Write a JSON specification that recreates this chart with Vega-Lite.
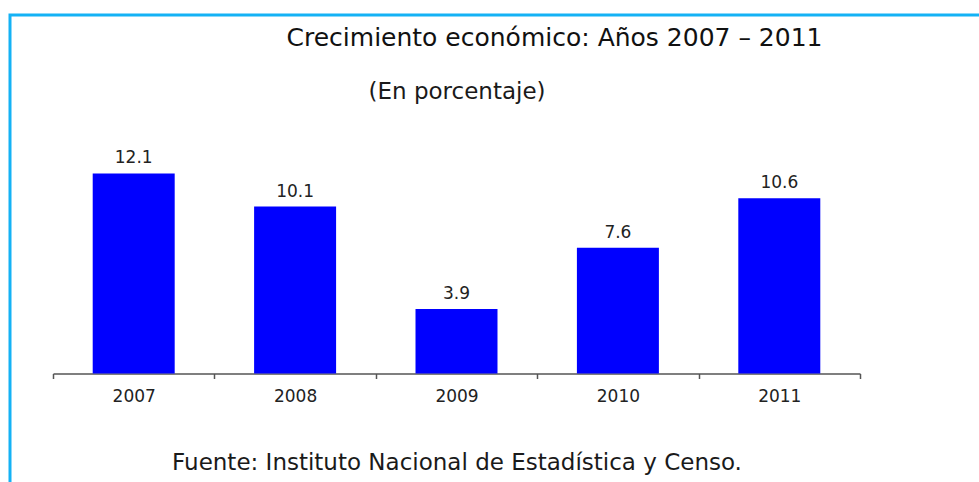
{
  "$schema": "https://vega.github.io/schema/vega-lite/v6.json",
  "autosize": "none",
  "width": 985,
  "height": 490,
  "padding": {"left": 10, "top": 15, "right": -16, "bottom": -23},
  "background": "white",
  "title": {
    "text": "Crecimiento económico: Años 2007 – 2011",
    "frame": "group",
    "anchor": "middle",
    "dx": 52,
    "offset": -56,
    "baseline": "alphabetic",
    "font": "DejaVu Sans",
    "fontSize": 25,
    "fontWeight": "normal",
    "color": "#111111"
  },
  "data": {
    "values": [
      {"year": "2007", "value": 12.1},
      {"year": "2008", "value": 10.1},
      {"year": "2009", "value": 3.9},
      {"year": "2010", "value": 7.6},
      {"year": "2011", "value": 10.6}
    ]
  },
  "layer": [
    {
      "mark": {"type": "bar", "color": "#0000ff", "width": {"band": 0.508}},
      "encoding": {
        "x": {
          "field": "year",
          "type": "ordinal",
          "scale": {"range": [43, 850], "paddingInner": 0, "paddingOuter": 0},
          "axis": {
            "orient": "bottom",
            "offset": -131.5,
            "title": "Fuente: Instituto Nacional de Estadística y Censo.",
            "titleFont": "DejaVu Sans",
            "titleFontSize": 23,
            "titleFontWeight": "normal",
            "titleColor": "#1a1a1a",
            "titlePadding": 47,
            "labelAngle": 0,
            "labelFont": "DejaVu Sans",
            "labelFontSize": 17,
            "labelColor": "#222222",
            "labelPadding": 10,
            "tickBand": "extent",
            "tickSize": 5,
            "tickWidth": 1.5,
            "tickColor": "#555555",
            "domainColor": "#555555",
            "domainWidth": 1.5,
            "grid": false
          }
        },
        "y": {
          "field": "value",
          "type": "quantitative",
          "scale": {"domain": [0, 13], "range": [358.5, 143.6], "nice": false, "zero": true},
          "axis": null
        }
      }
    },
    {
      "mark": {"type": "text", "dy": -10, "baseline": "alphabetic", "font": "DejaVu Sans", "fontSize": 17, "color": "#222222"},
      "encoding": {
        "x": {
          "field": "year",
          "type": "ordinal",
          "scale": {"range": [43, 850], "paddingInner": 0, "paddingOuter": 0},
          "axis": {
            "orient": "top",
            "offset": -88,
            "title": "(En porcentaje)",
            "titleFont": "DejaVu Sans",
            "titleFontSize": 23,
            "titleFontWeight": "normal",
            "titleColor": "#1a1a1a",
            "titlePadding": 0,
            "labels": false,
            "ticks": false,
            "domain": false,
            "grid": false
          }
        },
        "y": {
          "field": "value",
          "type": "quantitative",
          "scale": {"domain": [0, 13], "range": [358.5, 143.6], "nice": false, "zero": true},
          "axis": null
        },
        "text": {"field": "value", "type": "quantitative", "format": ".1f"}
      }
    }
  ],
  "config": {
    "view": {"stroke": "#14b2f5", "strokeWidth": 3}
  }
}
